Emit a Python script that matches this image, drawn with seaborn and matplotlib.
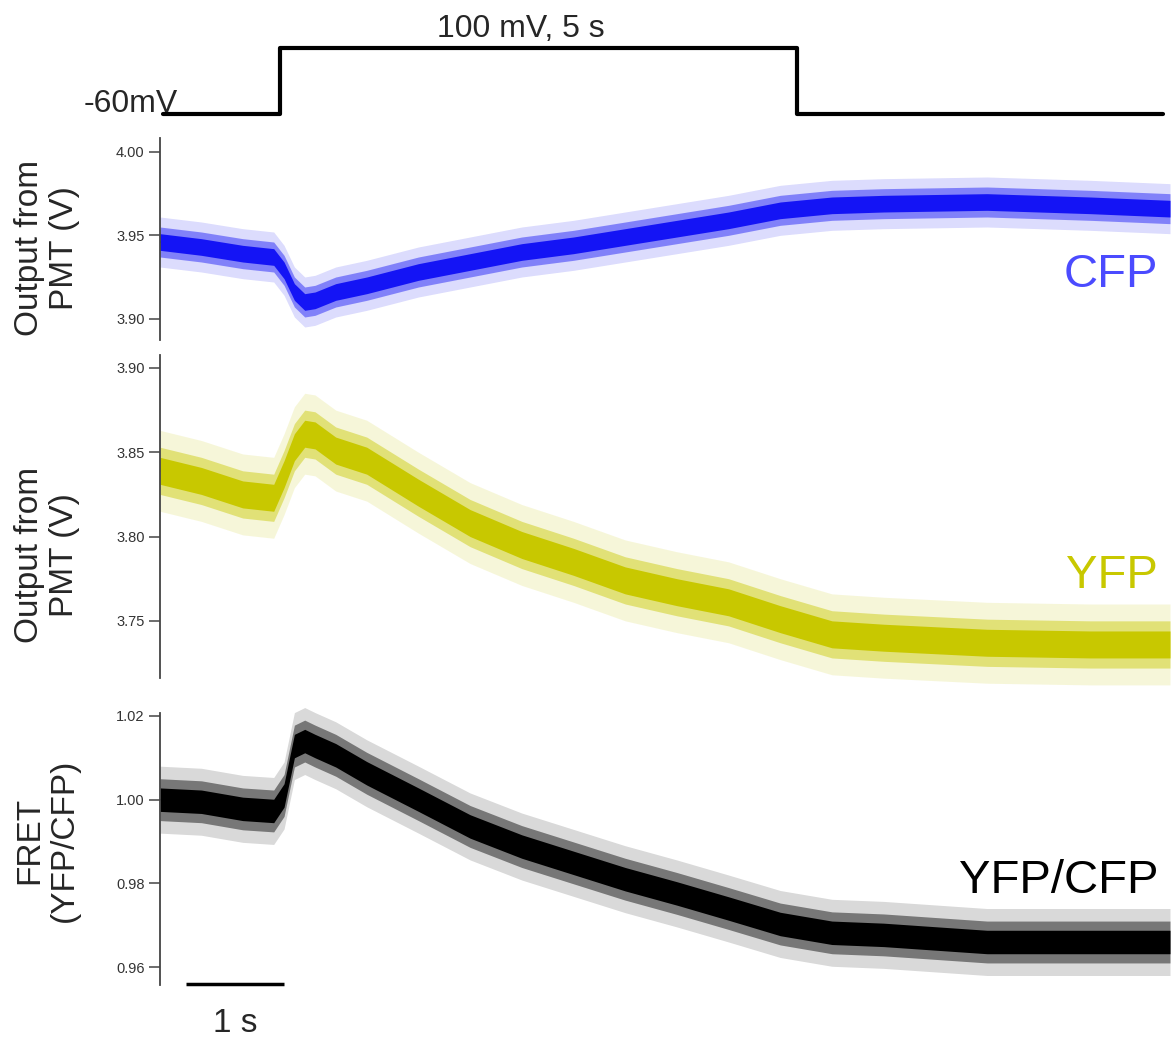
import numpy as np
import matplotlib.pyplot as plt
import seaborn as sns

# time axis (s) and traces (centre of the noisy band)
time_s = [0.0, 0.4, 0.8, 1.1, 1.2, 1.3, 1.4, 1.5, 1.7, 2.0, 2.5, 3.0,
          3.5, 4.0, 4.5, 5.0, 5.5, 6.0, 6.5, 7.0, 8.0, 9.0, 9.77]
cfp_v = [3.946, 3.943, 3.939, 3.937, 3.929, 3.916, 3.910, 3.911, 3.916, 3.920,
         3.928, 3.934, 3.940, 3.944, 3.949, 3.954, 3.959, 3.965, 3.968, 3.969,
         3.970, 3.968, 3.966]
yfp_v = [3.839, 3.833, 3.825, 3.823, 3.837, 3.853, 3.861, 3.860, 3.851, 3.845,
         3.826, 3.808, 3.795, 3.785, 3.774, 3.767, 3.761, 3.751, 3.742, 3.740,
         3.737, 3.736, 3.736]
fret_ratio = [1.0000, 0.9995, 0.9978, 0.9973, 1.0010, 1.0128, 1.0140, 1.0128,
              1.0106, 1.0063, 1.0000, 0.9936, 0.9888, 0.9849, 0.9810, 0.9776,
              0.9740, 0.9703, 0.9682, 0.9677, 0.9660, 0.9660, 0.9660]

# half-width of the noise band: dense core, middle, outer spikes
cfp_noise = [0.005, 0.009, 0.015]
yfp_noise = [0.008, 0.014, 0.024]
fret_noise = [0.0028, 0.005, 0.008]

# voltage protocol
step_t = [0.03, 1.16, 1.16, 6.16, 6.16, 9.70]
step_mv = [-60, -60, 100, 100, -60, -60]

cfp_ticks = [3.90, 3.95, 4.00]
yfp_ticks = [3.75, 3.80, 3.85, 3.90]
fret_ticks = [0.96, 0.98, 1.00, 1.02]

sns.set_style("ticks")
plt.rcParams['font.family'] = ['Liberation Sans', 'DejaVu Sans']

W, H = 1171, 1038
fig = plt.figure(figsize=(W / 100, H / 100), dpi=100)


def px_axes(left, top, right, bottom):
    return fig.add_axes([left / W, 1 - bottom / H, (right - left) / W, (bottom - top) / H])


def fx(x):
    return x / W


def fy(y):
    return 1 - y / H


T_MAX = 9.77

# --- protocol -------------------------------------------------------------
ax0 = px_axes(160, 30, 1170, 130)
sns.lineplot(x=step_t, y=step_mv, estimator=None, sort=False, color='black',
             lw=3, ax=ax0)
ax0.set_xlim(0, T_MAX)
ax0.set_ylim(-98.8, 143.6)
ax0.axis('off')


def trace_panel(box, mean, noise, color, ylim, ticks):
    ax = px_axes(*box)
    mean = np.asarray(mean)
    core, mid, spike = noise
    ax.fill_between(time_s, mean - spike, mean + spike, color=color, alpha=0.15,
                    lw=0, clip_on=False)
    ax.fill_between(time_s, mean - mid, mean + mid, color=color, alpha=0.45,
                    lw=0, clip_on=False)
    ax.fill_between(time_s, mean - core, mean + core, color=color, alpha=1.0,
                    lw=0, clip_on=False)
    sns.lineplot(x=time_s, y=mean, color=color, lw=1.0, ax=ax)
    ax.set_xlim(0, T_MAX)
    ax.set_ylim(*ylim)
    ax.set_yticks(ticks)
    ax.set_yticklabels([f"{v:.2f}" for v in ticks])
    ax.set_xticks([])
    for s in ['top', 'right', 'bottom']:
        ax.spines[s].set_visible(False)
    ax.spines['left'].set_color('#444444')
    ax.spines['left'].set_linewidth(1.3)
    ax.tick_params(axis='y', length=8, width=1.1, color='#444444',
                   labelsize=10.5, labelcolor='#333333', pad=3)
    ax.set_xlabel('')
    ax.set_ylabel('')
    return ax


ax1 = trace_panel((160, 138, 1170, 340), cfp_v, cfp_noise, '#1414f5',
                  (3.8872, 4.0084), cfp_ticks)
ax2 = trace_panel((160, 355, 1170, 678), yfp_v, yfp_noise, '#c8c800',
                  (3.7161, 3.9077), yfp_ticks)
ax3 = trace_panel((160, 713, 1170, 985), fret_ratio, fret_noise, 'black',
                  (0.95573, 1.0207), fret_ticks)

# scale bar 1 s
ax3.plot([0.25, 1.2], [0.9560, 0.9560], color='black', lw=2.5, clip_on=False,
         solid_capstyle='butt')
fig.text(fx(235), fy(1032), '1 s', ha='center', va='baseline', fontsize=24)

# protocol labels
fig.text(fx(84), fy(112), '-60mV', ha='left', va='baseline', fontsize=23)
fig.text(fx(521), fy(37), '100 mV, 5 s', ha='center', va='baseline', fontsize=23)

# y labels
fig.text(fx(47), fy(248), 'Output from\nPMT (V)', rotation=90, ha='center',
         va='center', fontsize=24, linespacing=1.15)
fig.text(fx(47), fy(555), 'Output from\nPMT (V)', rotation=90, ha='center',
         va='center', fontsize=24, linespacing=1.15)
fig.text(fx(47), fy(840), 'FRET\n(YFP/CFP)', rotation=90, ha='center',
         va='center', fontsize=24, linespacing=1.15)

# trace names
fig.text(fx(1158), fy(287), 'CFP', ha='right', va='baseline', fontsize=34,
         color='#4b4bff')
fig.text(fx(1158), fy(588), 'YFP', ha='right', va='baseline', fontsize=34,
         color='#c8c800')
fig.text(fx(1158), fy(893), 'YFP/CFP', ha='right', va='baseline', fontsize=34,
         color='black')

fig.savefig('out.png', dpi=100)
